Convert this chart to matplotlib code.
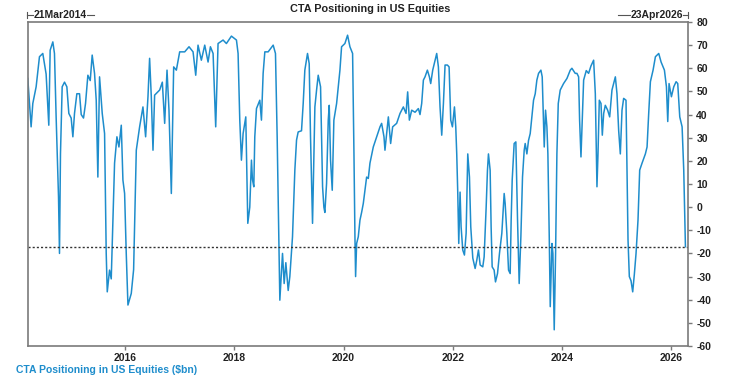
import matplotlib
matplotlib.use("Agg")
from matplotlib import pyplot as plt
from matplotlib.lines import Line2D

plt.rcParams['font.family'] = ['Liberation Sans', 'DejaVu Sans']
plt.rcParams['axes.unicode_minus'] = False

# decimal years and CTA positioning ($bn)
years = [
    2014.214, 2014.275, 2014.306, 2014.367, 2014.428, 2014.489, 2014.550, 2014.599,
    2014.624, 2014.673, 2014.703, 2014.734, 2014.777, 2014.795, 2014.813, 2014.844,
    2014.887, 2014.930, 2014.966, 2015.009, 2015.040, 2015.070, 2015.113, 2015.162,
    2015.193, 2015.235, 2015.272, 2015.315, 2015.358, 2015.394, 2015.437, 2015.468,
    2015.498, 2015.529, 2015.578, 2015.621, 2015.651, 2015.670, 2015.712, 2015.743,
    2015.804, 2015.847, 2015.884, 2015.927, 2015.957, 2015.988, 2016.018, 2016.049,
    2016.110, 2016.153, 2016.202, 2016.263, 2016.324, 2016.373, 2016.416, 2016.446,
    2016.477, 2016.508, 2016.538, 2016.630, 2016.679, 2016.722, 2016.765, 2016.801,
    2016.844, 2016.887, 2016.936, 2016.997, 2017.089, 2017.168, 2017.242, 2017.291,
    2017.333, 2017.394, 2017.456, 2017.517, 2017.560, 2017.609, 2017.657, 2017.700,
    2017.792, 2017.853, 2017.945, 2018.037, 2018.067, 2018.098, 2018.128, 2018.159,
    2018.208, 2018.245, 2018.281, 2018.312, 2018.330, 2018.355, 2018.373, 2018.404,
    2018.465, 2018.495, 2018.526, 2018.557, 2018.618, 2018.710, 2018.752, 2018.783,
    2018.813, 2018.832, 2018.881, 2018.911, 2018.942, 2018.985, 2019.015, 2019.064,
    2019.107, 2019.138, 2019.168, 2019.229, 2019.260, 2019.290, 2019.339, 2019.370,
    2019.394, 2019.431, 2019.474, 2019.505, 2019.535, 2019.578, 2019.615, 2019.639,
    2019.657, 2019.688, 2019.719, 2019.737, 2019.761, 2019.792, 2019.822, 2019.872,
    2019.933, 2019.963, 2020.024, 2020.073, 2020.116, 2020.165, 2020.190, 2020.208,
    2020.220, 2020.239, 2020.269, 2020.300, 2020.330, 2020.361, 2020.391, 2020.422,
    2020.453, 2020.483, 2020.544, 2020.606, 2020.667, 2020.697, 2020.740, 2020.758,
    2020.820, 2020.862, 2020.899, 2020.972, 2021.034, 2021.095, 2021.144, 2021.174,
    2021.205, 2021.248, 2021.309, 2021.370, 2021.400, 2021.431, 2021.462, 2021.492,
    2021.535, 2021.572, 2021.596, 2021.633, 2021.676, 2021.706, 2021.737, 2021.767,
    2021.798, 2021.829, 2021.859, 2021.902, 2021.933, 2021.963, 2021.994, 2022.031,
    2022.055, 2022.073, 2022.092, 2022.110, 2022.134, 2022.153, 2022.183, 2022.214,
    2022.245, 2022.275, 2022.306, 2022.330, 2022.367, 2022.410, 2022.440, 2022.471,
    2022.502, 2022.550, 2022.575, 2022.612, 2022.636, 2022.654, 2022.685, 2022.703,
    2022.722, 2022.758, 2022.783, 2022.820, 2022.856, 2022.899, 2022.942, 2022.960,
    2022.991, 2023.022, 2023.052, 2023.070, 2023.089, 2023.125, 2023.156, 2023.187,
    2023.217, 2023.248, 2023.278, 2023.309, 2023.327, 2023.358, 2023.388, 2023.419,
    2023.450, 2023.480, 2023.511, 2023.541, 2023.572, 2023.615, 2023.639, 2023.676,
    2023.700, 2023.725, 2023.743, 2023.768, 2023.786, 2023.817, 2023.835, 2023.859,
    2023.884, 2023.908, 2023.933, 2023.969, 2024.030, 2024.092, 2024.153, 2024.183,
    2024.244, 2024.275, 2024.306, 2024.324, 2024.349, 2024.373, 2024.398, 2024.446,
    2024.489, 2024.532, 2024.581, 2024.612, 2024.642, 2024.661, 2024.685, 2024.716,
    2024.740, 2024.765, 2024.795, 2024.838, 2024.875, 2024.917, 2024.979, 2025.009,
    2025.040, 2025.070, 2025.101, 2025.131, 2025.174, 2025.193, 2025.211, 2025.235,
    2025.266, 2025.297, 2025.327, 2025.358, 2025.394, 2025.425, 2025.468, 2025.529,
    2025.560, 2025.590, 2025.621, 2025.670, 2025.713, 2025.774, 2025.817, 2025.878,
    2025.915, 2025.939, 2025.963, 2026.006, 2026.049, 2026.092, 2026.122, 2026.159,
    2026.202, 2026.232, 2026.263,
]
positioning = [
    55.6, 34.7, 44.8, 52.0, 65.0, 66.4, 57.5, 35.4,
    67.8, 71.4, 66.4, 38.5, 4.5, -20.0, 23.0, 52.0,
    54.0, 52.0, 40.5, 38.5, 30.4, 40.5, 49.0, 49.0,
    40.0, 38.5, 44.8, 57.0, 54.7, 65.7, 57.8, 46.2,
    13.0, 56.3, 40.5, 31.8, -20.0, -36.6, -27.2, -31.0,
    19.0, 30.4, 26.0, 35.4, 11.7, 5.9, -20.0, -42.3,
    -37.3, -27.0, 24.6, 34.7, 43.3, 30.4, 47.7, 64.3,
    47.7, 24.6, 48.4, 50.6, 54.0, 36.2, 59.2, 41.9,
    5.9, 60.6, 59.2, 67.1, 67.1, 69.3, 67.1, 57.0,
    70.0, 63.5, 70.0, 62.7, 69.3, 66.4, 34.7, 70.7,
    72.2, 70.7, 73.9, 72.2, 66.4, 37.6, 20.3, 31.8,
    39.0, -7.0, 0.0, 20.3, 12.0, 8.8, 30.4, 42.6,
    46.2, 37.6, 57.8, 67.1, 67.1, 70.0, 66.4, 30.4,
    -12.8, -40.2, -20.0, -33.0, -24.0, -36.0, -30.0, -12.8,
    16.0, 29.0, 32.5, 33.0, 44.8, 59.2, 66.4, 62.0,
    30.4, -7.0, 43.3, 50.6, 57.0, 52.0, 8.8, 0.0,
    -2.3, 10.2, 37.6, 44.0, 20.3, 7.3, 37.6, 44.8,
    59.2, 69.3, 70.7, 74.3, 69.3, 66.4, 23.0, -12.8,
    -30.0, -15.7, -12.8, -5.6, -2.3, 1.6, 7.3, 13.0,
    12.4, 19.0, 26.0, 30.4, 34.7, 36.2, 30.4, 24.6,
    39.0, 27.5, 34.7, 36.2, 40.5, 43.3, 40.5, 49.8,
    37.6, 41.9, 41.0, 42.6, 40.0, 44.8, 54.9, 56.3,
    59.2, 56.3, 53.4, 59.2, 63.5, 66.4, 60.6, 43.3,
    31.1, 44.8, 61.4, 61.4, 60.6, 37.6, 34.7, 43.3,
    34.7, 23.0, 5.9, -15.7, 6.5, -8.5, -18.5, -20.7,
    -11.3, 23.0, 13.0, -8.5, -22.0, -26.5, -23.0, -18.5,
    -25.0, -25.8, -21.5, 0.0, 16.0, 23.0, 16.0, -8.5,
    -25.8, -27.2, -32.3, -28.7, -20.0, -11.3, 5.9, 1.6,
    -11.3, -27.2, -28.7, -5.6, 11.7, 27.5, 28.2, -5.6,
    -33.0, -12.8, 13.0, 24.6, 27.5, 23.0, 28.8, 31.8,
    39.0, 46.2, 49.0, 54.9, 57.8, 59.2, 56.3, 26.0,
    41.9, 34.7, 23.0, -12.8, -43.0, -15.7, -20.0, -53.0,
    -20.0, 23.0, 44.8, 50.6, 53.4, 55.6, 59.2, 60.0,
    57.8, 57.8, 56.3, 37.6, 21.7, 37.6, 54.9, 59.0,
    57.8, 61.0, 63.5, 49.0, 8.8, 23.0, 46.2, 44.8,
    31.1, 40.5, 44.0, 41.9, 39.0, 50.6, 56.3, 49.0,
    33.0, 23.0, 41.9, 47.0, 46.2, 16.0, -14.0, -30.0,
    -31.8, -36.6, -29.0, -20.0, -5.6, 16.0, 19.0, 23.0,
    26.0, 40.5, 54.2, 59.2, 65.0, 66.4, 62.7, 59.2,
    52.0, 37.0, 53.4, 47.7, 52.0, 54.2, 53.4, 39.0,
    34.7, 16.0, -17.1,
]
latest = positioning[-1]
x_ticks = [2016, 2018, 2020, 2022, 2024, 2026]
y_ticks = list(range(-60, 81, 10))
start_label = "21Mar2014"
end_label = "23Apr2026"
title = "CTA Positioning in US Equities"
series_label = r"CTA Positioning in US Equities (\$bn)"

blue = "#1e8dcc"
frame = "#7a7a7a"

fig = plt.figure(figsize=(7.4, 3.84), dpi=100)
ax = fig.add_axes([28 / 740, 1 - 346 / 384, 660 / 740, 324 / 384])

ax.plot(years, positioning, color=blue, lw=1.1)
ax.axhline(latest, color="#333333", lw=1.0, ls=(0, (1.5, 1.5)))

ax.set_xlim(2014.218, 2026.31)
ax.set_ylim(-60, 80)
ax.set_xticks(x_ticks)
ax.set_xticklabels([str(t) for t in x_ticks])
ax.set_yticks(y_ticks)
ax.yaxis.tick_right()
ax.tick_params(axis="both", direction="out", length=3, width=1, color=frame,
               labelsize=7.5, pad=2)
ax.tick_params(axis="y", pad=3)
for lab in ax.get_xticklabels() + ax.get_yticklabels():
    lab.set_fontweight("bold")
    lab.set_color("#222222")
for sp in ax.spines.values():
    sp.set_color(frame)
    sp.set_linewidth(1.2)

fig.text(370 / 740, 1 - 9 / 384, title, ha="center", va="center",
         fontsize=7.8, fontweight="bold", color="#222222")

# date range markers above the frame
ty = 1 - 15 / 384
fig.add_artist(Line2D([27 / 740, 33 / 740], [ty, ty], color="#555555", lw=0.8))
fig.add_artist(Line2D([27 / 740, 27 / 740], [ty - 0.008, ty + 0.008], color="#555555", lw=0.8))
fig.text(34 / 740, ty, start_label, ha="left", va="center", fontsize=7.5,
         fontweight="bold", color="#222222")
fig.add_artist(Line2D([87 / 740, 94 / 740], [ty, ty], color="#555555", lw=0.8))

fig.add_artist(Line2D([618 / 740, 630 / 740], [ty, ty], color="#555555", lw=0.8))
fig.text(631 / 740, ty, end_label, ha="left", va="center", fontsize=7.5,
         fontweight="bold", color="#222222")
fig.add_artist(Line2D([683 / 740, 688 / 740], [ty, ty], color="#555555", lw=0.8))
fig.add_artist(Line2D([688 / 740, 688 / 740], [ty - 0.008, ty + 0.008], color="#555555", lw=0.8))

fig.text(16 / 740, 1 - 370 / 384, series_label, ha="left", va="center",
         fontsize=7.5, fontweight="bold", color=blue)

fig.savefig("out.png", dpi=100)
